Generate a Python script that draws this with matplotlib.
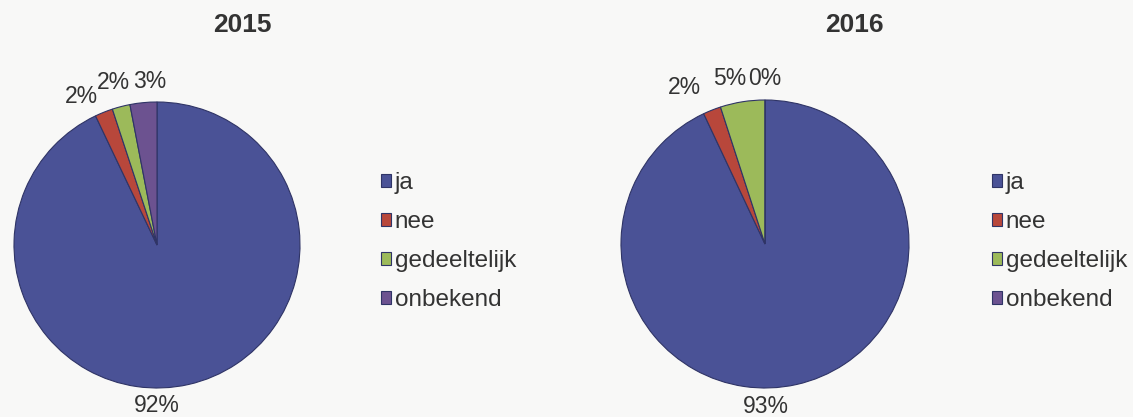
import matplotlib
matplotlib.use("Agg")
import matplotlib.pyplot as plt
import numpy as np

plt.rcParams['font.family'] = ['Liberation Sans', 'DejaVu Sans']

# ---- data ----
categories = ["ja", "nee", "gedeeltelijk", "onbekend"]
years = ["2015", "2016"]
values_2015 = [92, 2, 2, 3]
values_2016 = [93, 2, 5, 0]

colors = ["#4a5296", "#b8473b", "#9cba5a", "#6c5290"]
edge = "#2f3466"
text_color = "#333333"

W, H = 1133, 417
fig = plt.figure(figsize=(W / 100, H / 100), dpi=100)
fig.patch.set_facecolor("#f8f8f7")


def px_axes(cx, cy, r):
    """Axes box (figure fraction) for a pie of radius r pixels centred at (cx, cy) from top-left."""
    return [(cx - r) / W, (H - cy - r) / H, 2 * r / W, 2 * r / H]


# label nudges in pixels (x right, y up) per slice
nudges = {
    "2015": [(-37, 3), (-13, -7), (-2, 1), (9, -3)],
    "2016": [(-36, 2), (-19, 0), (-9, -1), (0, -3)],
}

layouts = [
    dict(year="2015", values=values_2015, center=(157, 245), radius=143,
         title_x=242, legend_xy=(381, 172)),
    dict(year="2016", values=values_2016, center=(765, 244), radius=144,
         title_x=854, legend_xy=(992, 172)),
]

for lay in layouts:
    cx, cy = lay["center"]
    ax = fig.add_axes(px_axes(cx, cy, lay["radius"]))
    wedges, _ = ax.pie(lay["values"], colors=colors, startangle=90,
                       counterclock=False, radius=1.0,
                       wedgeprops=dict(edgecolor=edge, linewidth=0.8))
    ax.set_xlim(-1, 1)
    ax.set_ylim(-1, 1)
    ax.set_aspect("equal")
    ax.axis("off")

    for w, v, (nx, ny) in zip(wedges, lay["values"], nudges[lay["year"]]):
        ang = np.deg2rad((w.theta1 + w.theta2) / 2)
        x, y = 1.17 * np.cos(ang), 1.17 * np.sin(ang)
        ax.annotate(f"{v}%", xy=(x, y), xytext=(nx, ny), textcoords="offset pixels",
                    ha="center", va="center", fontsize=16.5, color=text_color,
                    annotation_clip=False)

    fig.text(lay["title_x"] / W, 1 - 25 / H, lay["year"], ha="center", va="center",
             fontsize=19, fontweight="bold", color=text_color)

    lx, ly = lay["legend_xy"]
    leg = fig.legend(wedges, categories, loc="upper left",
                     bbox_to_anchor=(lx / W, 1 - ly / H),
                     frameon=False, fontsize=17.5, handlelength=0.42, handleheight=0.42,
                     handletextpad=0.15, labelspacing=0.7, borderpad=0, borderaxespad=0)
    for t in leg.get_texts():
        t.set_color(text_color)

fig.savefig("out.png", dpi=100, facecolor=fig.get_facecolor())
